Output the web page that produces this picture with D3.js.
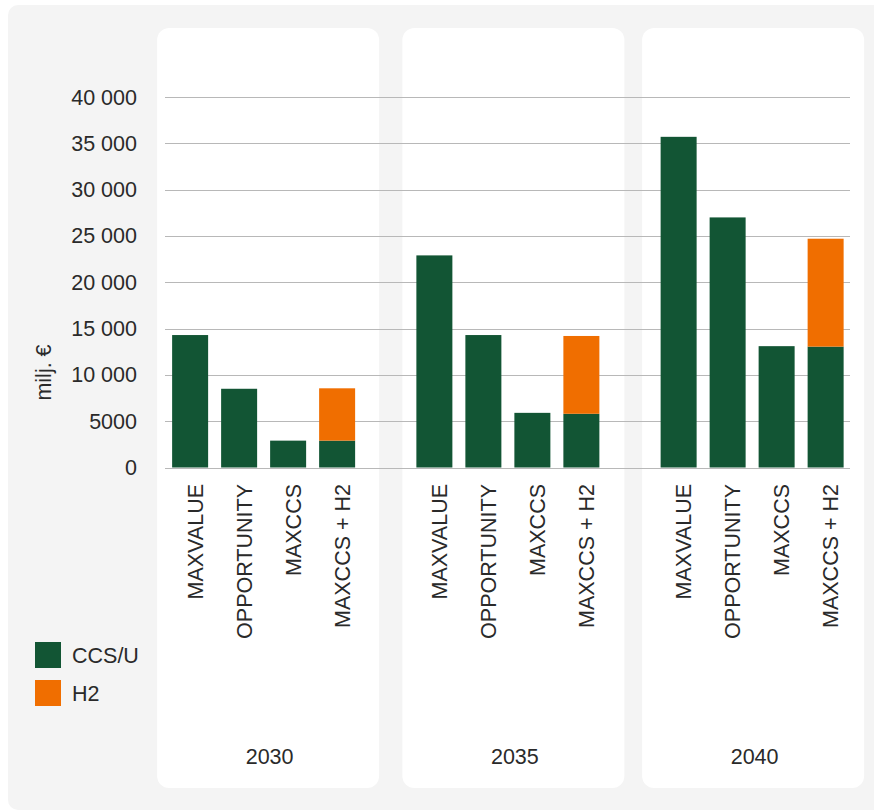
<!DOCTYPE html>
<html><head><meta charset="utf-8">
<script src="https://cdn.jsdelivr.net/npm/d3@7"></script>
<style>body{margin:0;background:#fff}svg{display:block;font-family:"Liberation Sans",Arial,Helvetica,sans-serif}</style>
</head><body><svg id="c" width="874" height="811"></svg>
<script>
const years = ["2030", "2035", "2040"];
const scenarios = ["MAXVALUE", "OPPORTUNITY", "MAXCCS", "MAXCCS + H2"];
const seriesNames = ["CCS/U", "H2"];
const seriesColors = ["#125534", "#f06e00"];
// values per year, ordered by scenarios
const ccsValues = {
  "2030": [14300, 8500, 2900, 2900],
  "2035": [22900, 14300, 5900, 5800],
  "2040": [35700, 27000, 13100, 13050]
};
const h2Values = {
  "2030": [0, 0, 0, 5650],
  "2035": [0, 0, 0, 8400],
  "2040": [0, 0, 0, 11650]
};
const yTicks = [0, 5000, 10000, 15000, 20000, 25000, 30000, 35000, 40000];
const yTitle = "milj. €";

const svg = d3.select("#c");
const textColor = "#2a2a2a";
const fs = 21.5;

// outer background
svg.append("rect").attr("x", 8).attr("y", 5).attr("width", 880).attr("height", 805)
  .attr("rx", 10).attr("fill", "#f4f4f4");

const x0 = d3.scaleBand().domain(years).range([141.5, 874.25]);
const x1 = d3.scaleBand().domain(scenarios).range([0, 196])
  .paddingInner(13 / 49).paddingOuter(6.5 / 49);
const y = d3.scaleLinear().domain([0, 40000]).range([467.5, 97]);
const color = d3.scaleOrdinal().domain(seriesNames).range(seriesColors);
const gc = yr => x0(yr) + x0.bandwidth() / 2;
const panelShift = [-106.5, -105.5, -110];

// panels
years.forEach((yr, i) => {
  svg.append("rect").attr("x", gc(yr) + panelShift[i]).attr("y", 28)
    .attr("width", 222).attr("height", 760).attr("rx", 12).attr("fill", "#fff");
});

// grid
const fmt = v => v >= 10000 ? d3.format(",")(v).replace(/,/g, " ") : String(v);
svg.append("g").selectAll("line").data(yTicks).join("line")
  .attr("x1", 165).attr("x2", 850)
  .attr("y1", d => Math.round(y(d)) + 0.5).attr("y2", d => Math.round(y(d)) + 0.5)
  .attr("stroke", "#b8b8b8").attr("stroke-width", 1);

// y labels
svg.append("g").selectAll("text").data(yTicks).join("text")
  .attr("x", 137).attr("y", d => y(d)).attr("dy", "0.35em")
  .attr("text-anchor", "end").attr("font-size", fs).attr("fill", textColor)
  .text(fmt);

svg.append("text").attr("transform", "translate(51,372.5) rotate(-90)")
  .attr("text-anchor", "middle").attr("font-size", fs).attr("fill", textColor)
  .text(yTitle);

// bars
const stackData = [];
years.forEach(yr => scenarios.forEach((s, i) => {
  const c = ccsValues[yr][i], h = h2Values[yr][i];
  stackData.push({yr, s, key: "CCS/U", y0: 0, y1: c});
  if (h > 0) stackData.push({yr, s, key: "H2", y0: c, y1: c + h});
}));
svg.append("g").selectAll("rect").data(stackData).join("rect")
  .attr("x", d => gc(d.yr) - 98 + x1(d.s))
  .attr("width", x1.bandwidth())
  .attr("y", d => y(d.y1))
  .attr("height", d => y(d.y0) - y(d.y1))
  .attr("fill", d => color(d.key));

// category labels
years.forEach((yr, i) => {
  svg.append("g").selectAll("text").data(scenarios).join("text")
    .attr("transform", s => `translate(${gc(yr) - 98 + x1(s) + x1.bandwidth() / 2 + 5},484) rotate(-90)`)
    .attr("dy", "0.35em").attr("text-anchor", "end")
    .attr("font-size", fs).attr("fill", textColor).text(s => s);
  svg.append("text").attr("x", gc(yr) + panelShift[i] + 111 + 1.5).attr("y", 764)
    .attr("text-anchor", "middle").attr("font-size", fs).attr("fill", textColor).text(yr);
});

// legend
seriesNames.forEach((n, i) => {
  svg.append("rect").attr("x", 35).attr("y", 642 + i * 38).attr("width", 26).attr("height", 26)
    .attr("fill", color(n));
  svg.append("text").attr("x", 72).attr("y", 655 + i * 38).attr("dy", "0.35em")
    .attr("font-size", fs).attr("fill", textColor).text(n);
});
</script></body></html>
